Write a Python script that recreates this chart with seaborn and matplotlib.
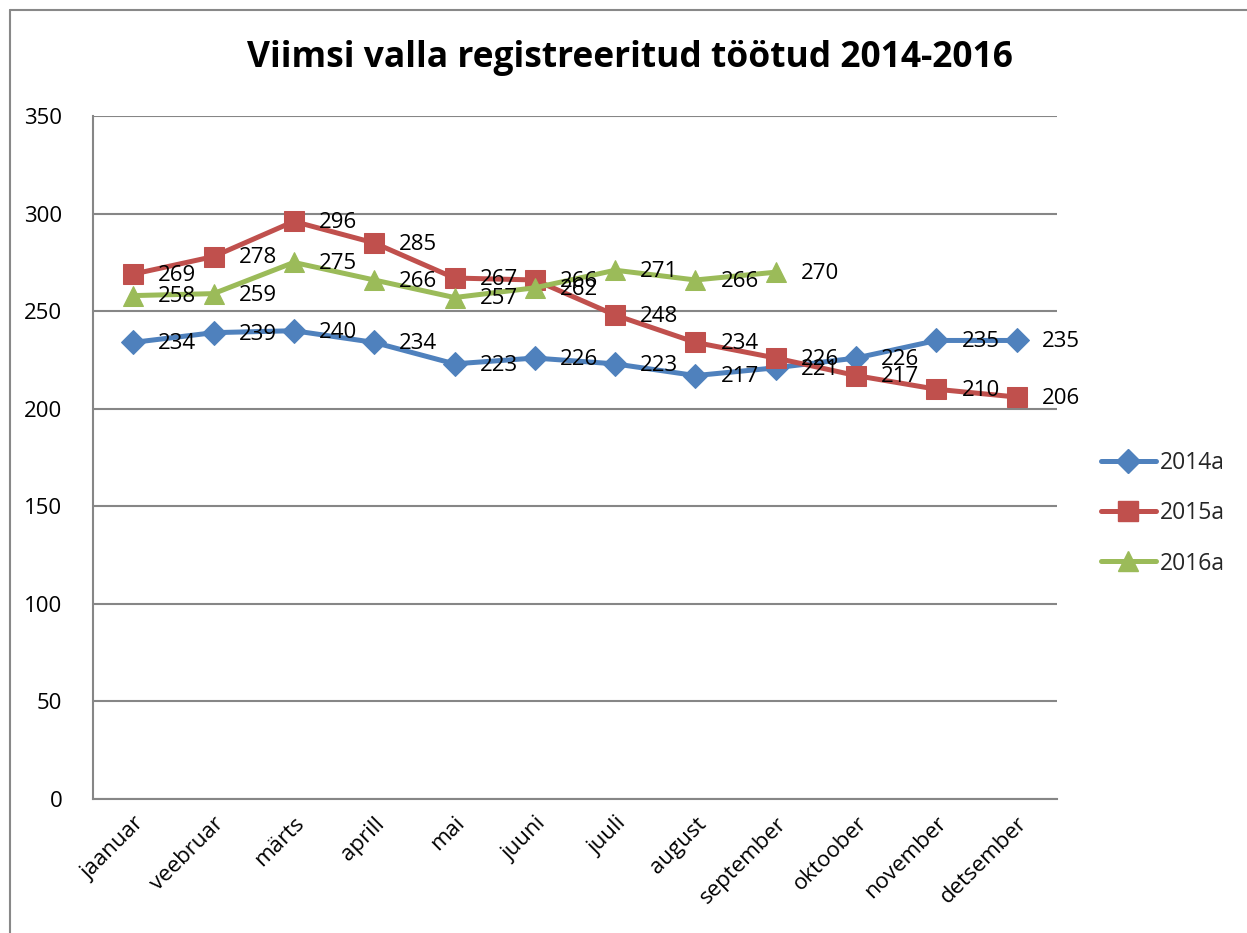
import matplotlib
matplotlib.use("Agg")
import matplotlib.pyplot as plt
from matplotlib.lines import Line2D
import seaborn as sns
import pandas as pd

# months shown on the x axis
months = ['jaanuar', 'veebruar', 'märts', 'aprill', 'mai', 'juuni', 'juuli',
          'august', 'september', 'oktoober', 'november', 'detsember']

# registered unemployed per month
vals_2014 = [234, 239, 240, 234, 223, 226, 223, 217, 221, 226, 235, 235]
vals_2015 = [269, 278, 296, 285, 267, 266, 248, 234, 226, 217, 210, 206]
vals_2016 = [258, 259, 275, 266, 257, 262, 271, 266, 270]

series = {'2014a': vals_2014, '2015a': vals_2015, '2016a': vals_2016}
colors = {'2014a': '#4F81BD', '2015a': '#C0504D', '2016a': '#9BBB59'}
markers = {'2014a': 'D', '2015a': 's', '2016a': '^'}
msizes = {'2014a': 12.5, '2015a': 14, '2016a': 15}

rows = []
for name, vals in series.items():
    for i, v in enumerate(vals):
        rows.append({'kuu': i, 'aasta': name, 'tootud': v})
df = pd.DataFrame(rows)

sns.set_theme(style='white')
plt.rcParams['font.family'] = ['Open Sans', 'DejaVu Sans']

fig = plt.figure(figsize=(12.47, 9.33), dpi=100)
ax = fig.add_axes([0.0746, 0.1436, 0.773, 0.732])

grid_col = '#868686'
for name in series:
    sub = df[df['aasta'] == name]
    sns.lineplot(data=sub, x='kuu', y='tootud', color=colors[name], linewidth=3.6,
                 marker=markers[name], markersize=msizes[name],
                 markeredgecolor=colors[name], label=name, ax=ax)
    # data labels to the right of each point
    for x, y in zip(sub['kuu'], sub['tootud']):
        ax.annotate(str(y), (x, y), xytext=(18, -1), textcoords='offset points',
                    ha='left', va='center', fontsize=16, color='black')

ax.set_xlim(-0.5, 11.5)
ax.set_ylim(0, 350)
ax.set_yticks(range(0, 351, 50))
ax.set_xticks(range(12))
ax.set_xticklabels(months, rotation=45, ha='right', rotation_mode='anchor')
ax.tick_params(axis='both', length=0, labelsize=16, colors='black')
ax.tick_params(axis='y', pad=22)
ax.tick_params(axis='x', pad=10)
ax.set_xlabel('')
ax.set_ylabel('')
ax.yaxis.grid(True, color=grid_col, linewidth=1.5)
ax.set_axisbelow(True)
for side in ['top', 'right']:
    ax.spines[side].set_visible(False)
for side in ['left', 'bottom']:
    ax.spines[side].set_color(grid_col)
    ax.spines[side].set_linewidth(1.5)

ax.legend_.remove()
handles = [Line2D([], [], color=colors[n], linewidth=3.6, marker=markers[n],
                  markersize=msizes[n], markeredgecolor=colors[n]) for n in series]
fig.legend(handles, list(series.keys()), loc='center left',
           bbox_to_anchor=(0.866, 0.45), frameon=False, fontsize=16.5,
           handlelength=2.4, handletextpad=0.2, labelspacing=1.15)

fig.text(0.505, 0.938, 'Viimsi valla registreeritud töötud 2014-2016',
         ha='center', va='center', fontsize=25.5, fontweight='bold', color='black')

# outer chart frame
fig.add_artist(Line2D([0.008, 0.008], [0.0, 0.989], transform=fig.transFigure,
                      color='#888888', linewidth=1.5))
fig.add_artist(Line2D([0.008, 1.0], [0.989, 0.989], transform=fig.transFigure,
                      color='#888888', linewidth=1.5))

fig.savefig('out.png', dpi=100)
